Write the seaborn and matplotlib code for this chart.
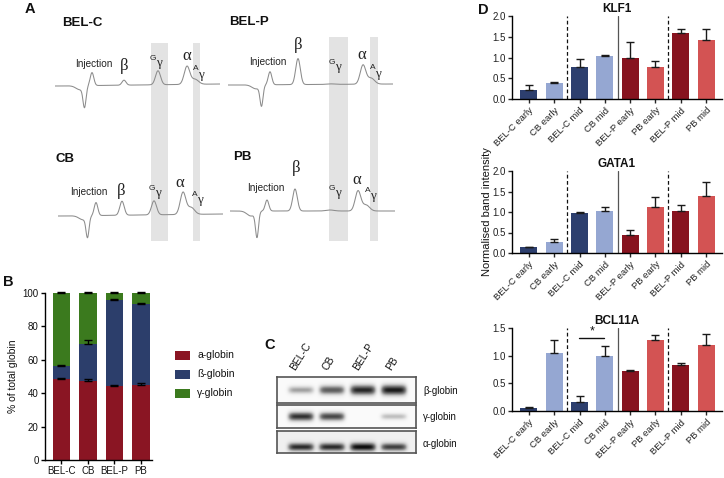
import numpy as np
import pandas as pd
import matplotlib
matplotlib.use("Agg")
import matplotlib.pyplot as plt
import seaborn as sns
from matplotlib.patches import Rectangle

# ---------------- data ----------------
# Panel A: HPLC chromatogram peaks (centre, height, width), retention units / signal units
trace_len = 165
BELC_peaks = [(25, -4, 4), (29.5, -20, 1.5), (37, 13, 1.8), (69, 5, 2), (103, 14, 2.5), (132, 18, 2.8), (140, 5, 3.5)]
CB_peaks = [(25, -4, 4), (29.5, -20, 1.5), (38, 13, 1.8), (64, 14, 2.2), (96, 14, 2.5), (125, 22, 2.8), (133, 7, 3.5)]
BELP_peaks = [(28, -4, 4), (33.5, -20, 1.5), (42, 13, 1.8), (70, 26, 2.3), (103, 0.5, 4), (135, 19, 2.8), (143, 6, 3.5)]
PB_peaks = [(21, -5, 4), (27, -25, 1.5), (37, 11, 1.8), (65, 22, 2.3), (100, 1, 4), (128, 20, 2.8), (136, 6, 3.5)]
BELC_drift, CB_drift, BELP_drift, PB_drift = 2, 2, 1, 0

# Panel B: % of total globin
B_samples = ["BEL-C", "CB", "BEL-P", "PB"]
alpha_pct = [48.8, 47.4, 44.6, 45.0]
beta_pct = [7.4, 22.3, 51.0, 48.6]
gamma_pct = [43.8, 30.3, 4.4, 6.4]
alpha_err = [0.6, 1.4, 0.4, 1.4]
beta_err = [0.4, 2.3, 1.0, 0.4]
gamma_err = [0.6, 0.6, 0.7, 0.8]
B_legend = ["a-globin", "ß-globin", "γ-globin"]

# Panel C: western blot band intensities
blot_lanes = ["BEL-C", "CB", "BEL-P", "PB"]
blot_names = ["β-globin", "γ-globin", "α-globin"]
beta_band = [0.45, 0.70, 0.88, 0.92]
gamma_band = [0.85, 0.78, 0.0, 0.35]
alpha_band = [0.78, 0.78, 0.88, 0.72]

# Panel D: normalised band intensity
D_groups = ["BEL-C early", "CB early", "BEL-C mid", "CB mid",
            "BEL-P early", "PB early", "BEL-P mid", "PB mid"]
KLF1 = [0.21, 0.38, 0.78, 1.03, 1.00, 0.77, 1.60, 1.41]
KLF1_err = [0.12, 0.04, 0.19, 0.03, 0.38, 0.15, 0.08, 0.28]
GATA1 = [0.14, 0.27, 0.97, 1.02, 0.43, 1.11, 1.02, 1.40]
GATA1_err = [0.01, 0.08, 0.04, 0.10, 0.13, 0.25, 0.14, 0.34]
BCL11A = [0.06, 1.04, 0.16, 1.00, 0.73, 1.29, 0.83, 1.20]
BCL11A_err = [0.01, 0.25, 0.12, 0.17, 0.01, 0.09, 0.03, 0.20]

# ---------------- style ----------------
sns.set_theme(style="ticks")
plt.rcParams['font.family'] = ['Liberation Sans', 'DejaVu Sans']
plt.rcParams['axes.linewidth'] = 1.0
plt.rcParams['axes.edgecolor'] = 'black'

W, H = 724, 478
fig = plt.figure(figsize=(7.24, 4.78), dpi=100)


def ax_px(l, t, r, b):
    return fig.add_axes([l / W, 1 - b / H, (r - l) / W, (b - t) / H])


ov = fig.add_axes([0, 0, 1, 1])
ov.set_xlim(0, W)
ov.set_ylim(H, 0)
ov.axis('off')

# ---------------- Panel A ----------------
BAND = '#e3e3e3'
for (x0, x1, y0) in [(151, 168, 43), (193, 200, 43), (329, 348, 37), (370, 378, 37)]:
    ov.add_patch(Rectangle((x0, y0), x1 - x0, 241 - y0, color=BAND, lw=0))


def trace_axes(x0, base, peaks, drift):
    ax = ax_px(x0, base - 45, x0 + trace_len, base + 35)
    ax.set_xlim(0, trace_len)
    ax.set_ylim(-35, 45)
    t = np.linspace(0, trace_len, 661)
    sig = drift * t / trace_len
    for c, h, w in peaks:
        sig = sig + h * np.exp(-0.5 * ((t - c) / w) ** 2)
    sns.lineplot(x=t, y=sig, ax=ax, color='#8c8c8c', lw=0.75)
    ax.axis('off')
    ax.patch.set_alpha(0)
    return ax


trace_axes(55, 86, BELC_peaks, BELC_drift)
trace_axes(58, 216, CB_peaks, CB_drift)
trace_axes(228, 85, BELP_peaks, BELP_drift)
trace_axes(230, 211, PB_peaks, PB_drift)

SERIF = ['Liberation Serif', 'DejaVu Serif']
TC = '#222222'


def chrom_labels(title, tpos, inj, beta, g, a, ag):
    ov.text(*tpos, title, fontsize=9.5, fontweight='bold', va='center', ha='left', color='#111')
    ov.text(*inj, "Injection", fontsize=7.2, ha='center', va='center', color=TC)
    ov.text(*beta, "β", fontsize=12, ha='center', va='center', family=SERIF, color=TC)
    ov.text(g[0], g[1], "G", fontsize=6, ha='center', va='center', color=TC)
    ov.text(g[0] + 5.5, g[1] + 5, "γ", fontsize=9.5, ha='center', va='center', family=SERIF, color=TC)
    ov.text(*a, "α", fontsize=12, ha='center', va='center', family=SERIF, color=TC)
    ov.text(ag[0], ag[1], "A", fontsize=6, ha='center', va='center', color=TC)
    ov.text(ag[0] + 5, ag[1] + 6.5, "γ", fontsize=9.5, ha='center', va='center', family=SERIF, color=TC)


chrom_labels("BEL-C", (62, 23), (94, 64), (124, 66), (153, 58), (187, 56), (196, 68))
chrom_labels("BEL-P", (229, 22), (268, 62), (298, 45), (332, 62), (362, 55), (373, 67))
chrom_labels("CB", (55, 159), (89, 192), (121, 191), (152, 188), (180, 183), (195, 194))
chrom_labels("PB", (233, 157), (266, 188), (296, 168), (332, 188), (357, 180), (368, 190))

for letter, pos in [("A", (25, 9)), ("B", (3, 282)), ("C", (264, 345)), ("D", (478, 10))]:
    ov.text(*pos, letter, fontsize=10.5, fontweight='bold', va='center', ha='left', color='#111')

# ---------------- Panel B ----------------
COL_A, COL_B, COL_G = '#8a1523', '#2c3e6b', '#3b7a1e'
axb = ax_px(45, 293, 152, 460)
cum_beta = [a + b for a, b in zip(alpha_pct, beta_pct)]
cum_all = [a + b + g for a, b, g in zip(alpha_pct, beta_pct, gamma_pct)]
for vals, col in [(cum_all, COL_G), (cum_beta, COL_B), (alpha_pct, COL_A)]:
    sns.barplot(x=B_samples, y=vals, color=col, saturation=1, width=0.66,
                linewidth=0, ax=axb, errorbar=None)
xpos = np.arange(len(B_samples))
for tops, errs in [(alpha_pct, alpha_err), (cum_beta, beta_err), (cum_all, gamma_err)]:
    axb.errorbar(xpos, tops, yerr=[np.zeros(4), errs], fmt='none', ecolor='black',
                 elinewidth=1, capsize=2.8, capthick=1, clip_on=False, zorder=5)
axb.set_xlim(-0.62, 3.42)
axb.set_ylim(0, 100)
axb.set_yticks([0, 20, 40, 60, 80, 100])
axb.set_ylabel("% of total globin", fontsize=7.5, labelpad=3, color='#111')
axb.set_xlabel("")
axb.tick_params(axis='both', labelsize=7, length=3, width=1, colors='black', labelcolor='#111', pad=1.5)
sns.despine(ax=axb)

for i, (lab, col) in enumerate(zip(B_legend, [COL_A, COL_B, COL_G])):
    yc = 355 + i * 19
    ov.add_patch(Rectangle((175, yc - 4.5), 15, 9, color=col, lw=0))
    ov.text(197, yc, lab, fontsize=7.5, va='center', ha='left', color='#111')

# ---------------- Panel C ----------------
def blot(box, intens, bg, yc, thick):
    l, t, r, b = box
    ax = ax_px(l, t, r, b)
    x_lo, x_hi = 0.23, 4.71
    X, Y = np.meshgrid(np.linspace(x_lo, x_hi, 300), np.linspace(0, 1, 60))
    img = np.full_like(X, bg)
    for i, v in enumerate(intens):
        img = img + v * np.exp(-((X - (i + 1)) / 0.42) ** 6) * \
            np.exp(-((Y - yc) / (thick * (0.45 + 0.6 * v))) ** 2)
    ax.imshow(img, extent=(x_lo, x_hi, 0, 1), origin='lower', cmap='Greys',
              vmin=0, vmax=1.05, aspect='auto', interpolation='bilinear')
    ax.set_xticks([])
    ax.set_yticks([])
    for s in ax.spines.values():
        s.set_color('#555555')
        s.set_linewidth(1.2)
    return ax


blot((277, 377, 416, 403), beta_band, 0.04, 0.5, 0.21)
blot((277, 405, 416, 428), gamma_band, 0.04, 0.5, 0.21)
blot((277, 431, 416, 453), alpha_band, 0.13, 0.27, 0.2)

for lab, x in zip(blot_lanes, [295, 327, 358, 391]):
    ov.text(x, 371, lab, fontsize=7.5, rotation=58, rotation_mode='anchor',
            ha='left', va='baseline', color='#111')
for lab, y in zip(blot_names, [391, 417, 444]):
    ov.text(423, y, lab, fontsize=7, va='center', ha='left', color='#111')

# ---------------- Panel D ----------------
D_colors = ['#2d3f6e', '#95a7d2', '#2d3f6e', '#95a7d2',
            '#87131f', '#d35353', '#87131f', '#d35353']


def dpanel(t, b, title, vals, errs, ymax, yticks):
    ax = ax_px(512, t, 722, b)
    sns.barplot(x=D_groups, y=vals, hue=D_groups, palette=D_colors, saturation=1,
                width=0.67, linewidth=0, legend=False, ax=ax, errorbar=None)
    ax.errorbar(np.arange(8), vals, yerr=[np.zeros(8), errs], fmt='none',
                ecolor='#1a1a1a', elinewidth=1, capsize=3, capthick=1, zorder=5)
    for xv, ls, c in [(1.5, (0, (3, 2)), '#111'), (3.5, '-', '#555'), (5.5, (0, (3, 2)), '#111')]:
        ax.plot([xv, xv], [0, ymax], ls=ls, color=c, lw=0.9)
    ax.set_xlim(-0.67, 7.63)
    ax.set_ylim(0, ymax)
    ax.set_yticks(yticks)
    ax.set_yticklabels([f"{v:.1f}" for v in yticks])
    ax.set_xticks(np.arange(8))
    ax.set_xticklabels(D_groups, rotation=45, ha='right', rotation_mode='anchor')
    ax.tick_params(axis='y', labelsize=7, length=3, width=1, labelcolor='#222', pad=1.5)
    ax.tick_params(axis='x', labelsize=6.8, length=3, width=1, labelcolor='#222', pad=2)
    ax.set_xlabel("")
    ax.set_ylabel("")
    ax.set_title(title, fontsize=8.5, fontweight='bold', pad=3, color='#111')
    sns.despine(ax=ax)
    return ax


dpanel(16, 99, "KLF1", KLF1, KLF1_err, 2.0, [0.0, 0.5, 1.0, 1.5, 2.0])
dpanel(171, 253, "GATA1", GATA1, GATA1_err, 2.0, [0.0, 0.5, 1.0, 1.5, 2.0])
axc = dpanel(328, 411, "BCL11A", BCL11A, BCL11A_err, 1.5, [0.0, 0.5, 1.0, 1.5])
axc.plot([1.98, 2.97], [1.32, 1.32], color='#111', lw=1)
axc.text(2.48, 1.33, "*", ha='center', va='bottom', fontsize=9, color='#111')

ov.text(487, 212, "Normalised band intensity", rotation=90, fontsize=8,
        ha='center', va='center', color='#111')

fig.savefig("out.png", dpi=100)
